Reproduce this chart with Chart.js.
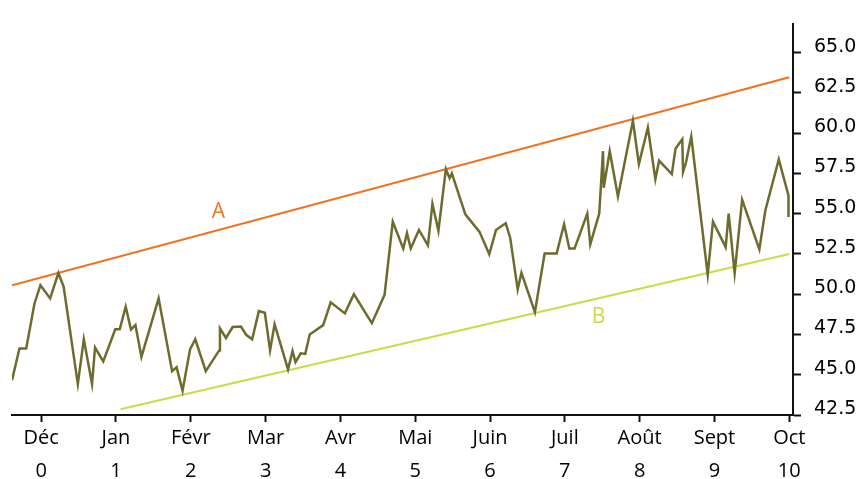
<!DOCTYPE html>
<html>
<head>
<meta charset="utf-8">
<script src="https://cdn.jsdelivr.net/npm/chart.js@4.4.1/dist/chart.umd.min.js"></script>
<style>
  html, body { margin: 0; padding: 0; background: #fff; }
  #wrap { width: 860px; height: 479px; }
</style>
</head>
<body>
<div id="wrap"><canvas id="price-chart" width="860" height="479"></canvas></div>
<script>
// months along the bottom, with their index underneath
const months = ['Déc', 'Jan', 'Févr', 'Mar', 'Avr', 'Mai', 'Juin', 'Juil', 'Août', 'Sept', 'Oct'];
const xTicks = [0, 1, 2, 3, 4, 5, 6, 7, 8, 9, 10];
const yTicks = [42.5, 45, 47.5, 50, 52.5, 55, 57.5, 60, 62.5, 65];

// price series (x in months from Déc)
const priceX = [
    -0.39, -0.29, -0.20, -0.09, -0.01, 0.12, 0.23, 0.30, 0.49, 0.57,
    0.68, 0.72, 0.83, 0.99, 1.05, 1.13, 1.20, 1.26, 1.34, 1.57,
    1.75, 1.81, 1.89, 1.99, 2.06, 2.20, 2.38, 2.39, 2.47, 2.56,
    2.67, 2.74, 2.82, 2.91, 2.99, 3.06, 3.12, 3.30, 3.36, 3.40,
    3.47, 3.53, 3.59, 3.77, 3.87, 4.06, 4.18, 4.42, 4.59, 4.70,
    4.84, 4.89, 4.94, 5.05, 5.17, 5.23, 5.31, 5.41, 5.46, 5.49,
    5.67, 5.86, 5.99, 6.08, 6.21, 6.27, 6.37, 6.42, 6.60, 6.73,
    6.89, 6.99, 7.06, 7.13, 7.30, 7.34, 7.46, 7.51, 7.52, 7.60,
    7.71, 7.91, 7.99, 8.11, 8.21, 8.26, 8.43, 8.48, 8.57, 8.58,
    8.62, 8.69, 8.91, 8.98, 9.15, 9.19, 9.27, 9.37, 9.60, 9.68,
    9.86, 9.99, 9.99
];
const priceY = [
    44.66, 46.63, 46.63, 49.41, 50.56, 49.74, 51.31, 50.47, 44.42, 47.20,
    44.42, 46.69, 45.83, 47.82, 47.82, 49.22, 47.81, 48.08, 46.11, 49.74,
    45.22, 45.46, 44.01, 46.57, 47.20, 45.22, 46.51, 47.88, 47.28, 47.96,
    47.99, 47.48, 47.20, 48.95, 48.85, 46.51, 48.14, 45.33, 46.47, 45.78,
    46.33, 46.29, 47.50, 48.08, 49.50, 48.81, 50.00, 48.20, 49.96, 54.50,
    52.83, 53.79, 52.84, 53.99, 53.03, 55.61, 53.93, 57.76, 57.20, 57.50,
    54.96, 53.87, 52.48, 53.99, 54.40, 53.49, 50.30, 51.33, 48.89, 52.52,
    52.52, 54.34, 52.83, 52.83, 55.00, 53.09, 55.00, 58.88, 56.61, 58.88,
    56.07, 60.77, 58.08, 60.35, 57.14, 58.29, 57.46, 59.05, 59.62, 57.59,
    58.19, 59.79, 51.21, 54.50, 52.92, 55.00, 51.31, 55.87, 52.78, 55.20,
    58.37, 56.11, 54.80
];

// trend channel
const trendAX = [-0.39, 10];
const trendAY = [50.56, 63.47];
const trendBX = [1.06, 10];
const trendBY = [42.86, 52.5];

const lineNames = ['A', 'B'];
const lineNameX = [2.37, 7.45];
const lineNameY = [55.08, 48.61];

const OLIVE = '#6e6b2f';
const ORANGE = '#f37021';
const LIME = '#c5de45';
const AXIS = '#111';

const toPoints = (xs, ys) => xs.map((x, i) => ({ x: x, y: ys[i] }));

const lineNamePlugin = {
    id: 'lineNames',
    afterDatasetsDraw(chart) {
        const ctx = chart.ctx;
        const colors = [ORANGE, LIME];
        ctx.save();
        ctx.textAlign = 'center';
        ctx.textBaseline = 'middle';
        lineNames.forEach((name, i) => {
            ctx.font = '21px "Open Sans"';
            ctx.fillStyle = colors[i];
            ctx.fillText(name,
                chart.scales.x.getPixelForValue(lineNameX[i]),
                chart.scales.y.getPixelForValue(lineNameY[i]));
        });
        ctx.restore();
    }
};

const renderChart = () => {
    const ctx = document.getElementById('price-chart').getContext('2d');

    new Chart(ctx, {
        type: 'line',
        data: {
            datasets: [{
                data: toPoints(priceX, priceY),
                borderColor: OLIVE,
                borderWidth: 2.5,
                pointRadius: 0,
                tension: 0
            }, {
                data: toPoints(trendAX, trendAY),
                borderColor: ORANGE,
                borderWidth: 2,
                pointRadius: 0
            }, {
                data: toPoints(trendBX, trendBY),
                borderColor: LIME,
                borderWidth: 2,
                pointRadius: 0
            }]
        },
        options: {
            responsive: false,
            animation: false,
            devicePixelRatio: 1,
            layout: { padding: { left: 12, top: 14, right: 0, bottom: 0 } },
            plugins: {
                legend: { display: false },
                tooltip: { enabled: false }
            },
            scales: {
                x: {
                    type: 'linear',
                    min: -0.39,
                    max: 10.05,
                    afterBuildTicks: (scale) => {
                        scale.ticks = xTicks.map(v => ({ value: v }));
                    },
                    afterFit: (scale) => { scale.height = 64; },
                    border: { display: true, color: AXIS, width: 2 },
                    grid: {
                        drawOnChartArea: false,
                        drawTicks: true,
                        tickLength: 7,
                        tickWidth: 2,
                        tickColor: AXIS
                    },
                    ticks: {
                        autoSkip: false,
                        maxRotation: 0,
                        padding: 0,
                        color: '#000',
                        font: { family: 'Open Sans', size: 20, lineHeight: 1.65 },
                        callback: (value) => [months[value], String(value)]
                    }
                },
                y: {
                    position: 'right',
                    min: 42.5,
                    max: 66.75,
                    afterBuildTicks: (scale) => {
                        scale.ticks = yTicks.map(v => ({ value: v }));
                    },
                    afterFit: (scale) => { scale.width = 67; },
                    border: { display: true, color: AXIS, width: 2 },
                    grid: {
                        drawOnChartArea: false,
                        drawTicks: true,
                        tickLength: 8,
                        tickWidth: 2,
                        tickColor: AXIS
                    },
                    ticks: {
                        padding: 13,
                        labelOffset: -6,
                        color: '#000',
                        font: { family: 'DejaVu Sans', size: 19 },
                        callback: (value) => value.toFixed(1)
                    }
                }
            }
        },
        plugins: [lineNamePlugin]
    });
};

document.addEventListener('DOMContentLoaded', () => {
    renderChart();
});
</script>
</body>
</html>
